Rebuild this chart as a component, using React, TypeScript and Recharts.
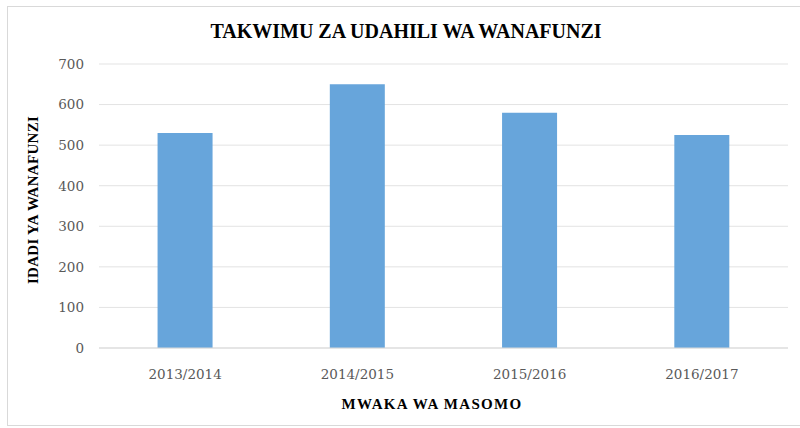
import React from "react";
import { BarChart, Bar, XAxis, YAxis, CartesianGrid } from "recharts";

const years = ["2013/2014", "2014/2015", "2015/2016", "2016/2017"];
const students = [530, 650, 580, 525];
const yTicks = [0, 100, 200, 300, 400, 500, 600, 700];

const data = years.map((y, i) => ({ year: y, value: students[i] }));

const serif = "'Liberation Serif', 'DejaVu Serif', serif";
const tickFont = "'DejaVu Serif', serif";

export default function App() {
  return (
    <div style={{ position: "absolute", left: 0, top: 0, width: 800, height: 428, background: "#fff" }}>
      <div style={{ position: "absolute", left: 7, top: 6, width: 800, height: 420, border: "1px solid #d9d9d9", boxSizing: "border-box" }} />
      <BarChart
        width={800}
        height={428}
        data={data}
        margin={{ top: 64, right: 12, bottom: 50, left: 0 }}
        barCategoryGap="34%"
      >
        <CartesianGrid vertical={false} stroke="#e3e3e3" />
        <XAxis
          dataKey="year"
          axisLine={{ stroke: "#d9d9d9" }}
          tickLine={false}
          tickMargin={15}
          tick={{ fill: "#595959", fontSize: 13.5, fontFamily: tickFont }}
        />
        <YAxis
          width={99}
          domain={[0, 700]}
          ticks={yTicks}
          axisLine={false}
          tickLine={false}
          tickMargin={9}
          tick={{ fill: "#595959", fontSize: 13.5, fontFamily: tickFont }}
        />
        <Bar dataKey="value" fill="#67A5DB" isAnimationActive={false} />
      </BarChart>
      <div
        style={{
          position: "absolute",
          left: 0,
          width: 812,
          top: 20,
          textAlign: "center",
          fontFamily: serif,
          fontWeight: "bold",
          fontSize: 20,
          color: "#000",
        }}
      >
        TAKWIMU ZA UDAHILI WA WANAFUNZI
      </div>
      <div
        style={{
          position: "absolute",
          left: 432,
          top: 396,
          transform: "translateX(-50%)",
          whiteSpace: "nowrap",
          fontFamily: serif,
          fontWeight: "bold",
          fontSize: 15,
          letterSpacing: 1.3,
          color: "#000",
        }}
      >
        MWAKA WA MASOMO
      </div>
      <div
        style={{
          position: "absolute",
          left: 33,
          top: 200,
          transform: "translate(-50%, -50%) rotate(-90deg)",
          whiteSpace: "nowrap",
          fontFamily: serif,
          fontWeight: "bold",
          fontSize: 15,
          letterSpacing: 0.3,
          color: "#000",
        }}
      >
        IDADI YA WANAFUNZI
      </div>
    </div>
  );
}
